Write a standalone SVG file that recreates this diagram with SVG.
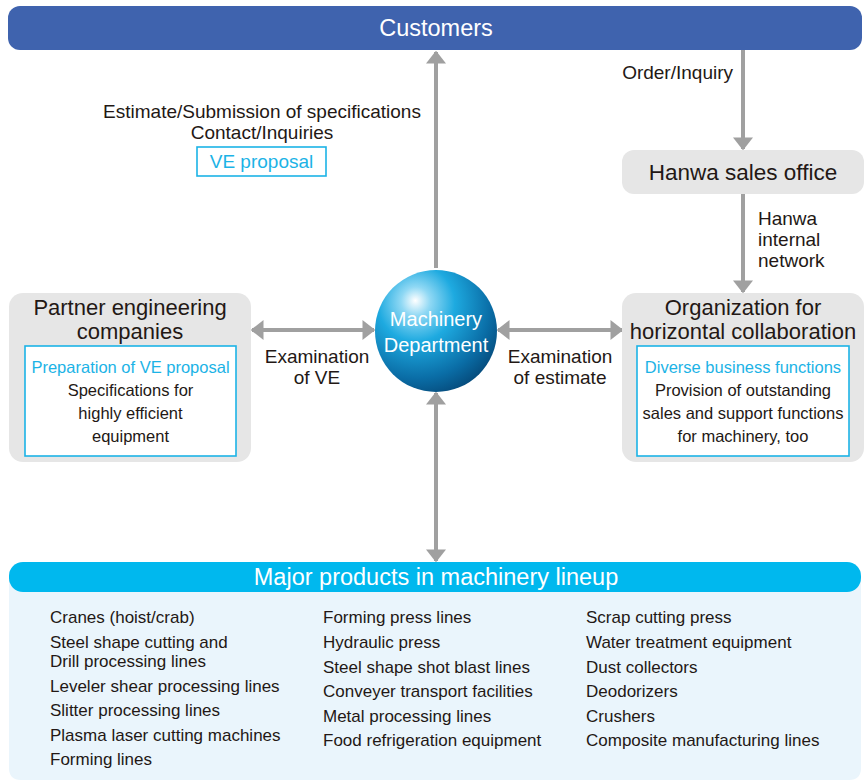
<svg xmlns="http://www.w3.org/2000/svg" width="864" height="782" viewBox="0 0 864 782">
<defs>
<radialGradient id="sph" cx="0.35" cy="0.3" r="0.75" fx="0.33" fy="0.25">
<stop offset="0" stop-color="#ffffff"/>
<stop offset="0.16" stop-color="#8fd8f4"/>
<stop offset="0.42" stop-color="#1eaae0"/>
<stop offset="0.8" stop-color="#0a6da6"/>
<stop offset="1" stop-color="#064d7e"/>
</radialGradient>
<marker id="ah" viewBox="0 0 10 10" refX="9" refY="5" markerWidth="3.2" markerHeight="5" markerUnits="strokeWidth" orient="auto-start-reverse" preserveAspectRatio="none">
<path d="M0,0 L10,5 L0,10 Z" fill="#a0a0a0"/>
</marker>
<style>
text{font-family:"Liberation Sans",Arial,sans-serif;fill:#231815}
.c{text-anchor:middle}
.w{fill:#ffffff}
.cy{fill:#1cb3e6}
.lbl{font-size:19px}
.hd{font-size:22px}
.sm{font-size:16.5px}
.pl{font-size:17px}
.gray{fill:#e6e6e6}
.inner{fill:#ffffff;stroke:#1cb3e6;stroke-width:1.6}
.conn line{stroke:#a0a0a0;stroke-width:4}
</style>
</defs>
<rect x="0" y="0" width="864" height="782" fill="#ffffff"/>

<g id="connectors" class="conn">
<line x1="436" y1="268" x2="436" y2="52" marker-end="url(#ah)"/>
<line x1="743" y1="50" x2="743" y2="149" marker-end="url(#ah)"/>
<line x1="743" y1="194" x2="743" y2="292" marker-end="url(#ah)"/>
<line x1="252" y1="330" x2="374" y2="330" marker-start="url(#ah)" marker-end="url(#ah)"/>
<line x1="498" y1="330" x2="622" y2="330" marker-start="url(#ah)" marker-end="url(#ah)"/>
<line x1="436" y1="393" x2="436" y2="561" marker-start="url(#ah)" marker-end="url(#ah)"/>
</g>

<g id="labels">
<text class="lbl c" x="262" y="118">Estimate/Submission of specifications</text>
<text class="lbl c" x="262" y="139">Contact/Inquiries</text>
<rect x="197" y="147" width="129" height="29" fill="#ffffff" stroke="#1cb3e6" stroke-width="1.6"/>
<text class="lbl c cy" x="261.5" y="168">VE proposal</text>
<text class="lbl" x="733" y="79" text-anchor="end">Order/Inquiry</text>
<text class="lbl" x="758" y="225">Hanwa</text>
<text class="lbl" x="758" y="246">internal</text>
<text class="lbl" x="758" y="267">network</text>
<text class="lbl c" x="317" y="363">Examination</text>
<text class="lbl c" x="317" y="384">of VE</text>
<text class="lbl c" x="560" y="363">Examination</text>
<text class="lbl c" x="560" y="384">of estimate</text>
</g>

<g id="customers">
<rect x="8" y="6" width="854" height="44" rx="12" fill="#3f63ae"/>
<text class="c w" x="436" y="36" font-size="23.5">Customers</text>
</g>

<g id="hanwa-sales-office">
<rect class="gray" x="622" y="150" width="242" height="44" rx="12"/>
<text class="c" x="743" y="180" font-size="22.5">Hanwa sales office</text>
</g>

<g id="organization">
<rect class="gray" x="622" y="293" width="242" height="169" rx="14"/>
<text class="hd c" x="743" y="315">Organization for</text>
<text class="hd c" x="743" y="339">horizontal collaboration</text>
<rect class="inner" x="637" y="346" width="212" height="110"/>
<text class="sm c cy" x="743" y="373">Diverse business functions</text>
<text class="sm c" x="743" y="396">Provision of outstanding</text>
<text class="sm c" x="743" y="419">sales and support functions</text>
<text class="sm c" x="743" y="442">for machinery, too</text>
</g>

<g id="partner">
<rect class="gray" x="9" y="293" width="242" height="169" rx="14"/>
<text class="hd c" x="130" y="315">Partner engineering</text>
<text class="hd c" x="130" y="339">companies</text>
<rect class="inner" x="25" y="346" width="211" height="110"/>
<text class="sm c cy" x="130.5" y="373">Preparation of VE proposal</text>
<text class="sm c" x="130.5" y="396">Specifications for</text>
<text class="sm c" x="130.5" y="419">highly efficient</text>
<text class="sm c" x="130.5" y="442">equipment</text>
</g>

<g id="machinery-department">
<circle cx="436" cy="331" r="61" fill="url(#sph)"/>
<text class="c w" x="436" y="326" font-size="20">Machinery</text>
<text class="c w" x="436" y="352" font-size="20">Department</text>
</g>

<g id="products">
<path d="M9,580 H861 V768 Q861,780 849,780 H21 Q9,780 9,768 Z" fill="#eaf5fc"/>
<rect x="9" y="562" width="852" height="30" rx="14" fill="#00b8ee"/>
<text class="c w" x="436" y="585" font-size="23.5">Major products in machinery lineup</text>
<g class="pl">
<text x="50" y="623">Cranes (hoist/crab)</text>
<text x="50" y="648">Steel shape cutting and</text>
<text x="50" y="667">Drill processing lines</text>
<text x="50" y="692">Leveler shear processing lines</text>
<text x="50" y="716">Slitter processing lines</text>
<text x="50" y="741">Plasma laser cutting machines</text>
<text x="50" y="765">Forming lines</text>
<text x="323" y="623">Forming press lines</text>
<text x="323" y="648">Hydraulic press</text>
<text x="323" y="673">Steel shape shot blast lines</text>
<text x="323" y="697">Conveyer transport facilities</text>
<text x="323" y="722">Metal processing lines</text>
<text x="323" y="746">Food refrigeration equipment</text>
<text x="586" y="623">Scrap cutting press</text>
<text x="586" y="648">Water treatment equipment</text>
<text x="586" y="673">Dust collectors</text>
<text x="586" y="697">Deodorizers</text>
<text x="586" y="722">Crushers</text>
<text x="586" y="746">Composite manufacturing lines</text>
</g>
</g>
</svg>
